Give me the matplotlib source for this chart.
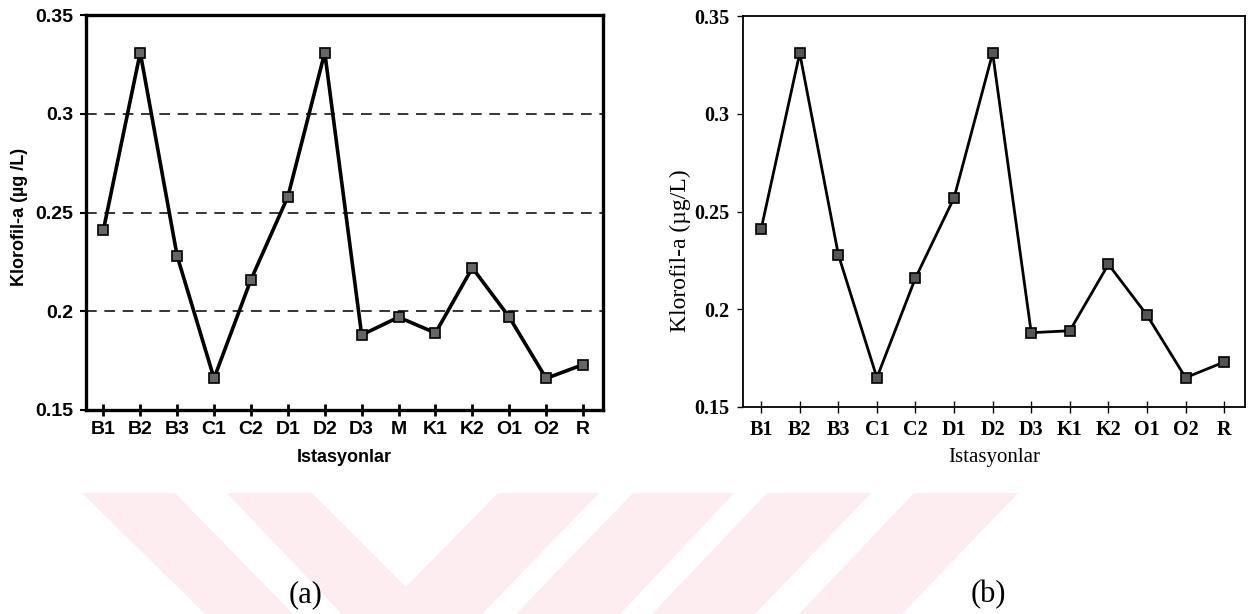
import numpy as np
import matplotlib
matplotlib.use('Agg')
import matplotlib.pyplot as plt
from matplotlib.patches import Polygon
from matplotlib import font_manager

# data
stations_a = ['B1', 'B2', 'B3', 'C1', 'C2', 'D1', 'D2', 'D3', 'M', 'K1', 'K2', 'O1', 'O2', 'R']
klorofil_a = [0.241, 0.331, 0.228, 0.166, 0.216, 0.258, 0.331, 0.188, 0.197, 0.189, 0.222, 0.197, 0.166, 0.173]

stations_b = ['B1', 'B2', 'B3', 'C1', 'C2', 'D1', 'D2', 'D3', 'K1', 'K2', 'O1', 'O2', 'R']
klorofil_b = [0.241, 0.331, 0.228, 0.165, 0.216, 0.257, 0.331, 0.188, 0.189, 0.223, 0.197, 0.165, 0.173]

y_ticks = [0.15, 0.2, 0.25, 0.3, 0.35]
y_tick_labels = ['0.15', '0.2', '0.25', '0.3', '0.35']

names = {f.name for f in font_manager.fontManager.ttflist}
sans = 'Liberation Sans Narrow' if 'Liberation Sans Narrow' in names else 'Liberation Sans'
serif = 'Liberation Serif'

W, H = 1249, 614
fig = plt.figure(figsize=(W / 100, H / 100), dpi=100)

def px_axes(l, t, r, b):
    return fig.add_axes([l / W, 1 - b / H, (r - l) / W, (b - t) / H])

# watermark bands (pixel coords)
bands = [
    [(82, 493), (175, 493), (293, 614), (205, 614)],
    [(227, 493), (312, 493), (406, 587), (498, 493), (599, 493), (482, 614), (342, 614)],
    [(633, 493), (734, 493), (620, 614), (516, 614)],
    [(767, 493), (871, 493), (755, 614), (652, 614)],
    [(914, 493), (1018, 493), (902, 614), (799, 614)],
]
for b in bands:
    pts = [(x / W, 1 - y / H) for x, y in b]
    fig.patches.append(Polygon(pts, closed=True, transform=fig.transFigure,
                               facecolor='#fdedf0', edgecolor='none', zorder=0))

# ---- panel (a)
ax1 = px_axes(86, 15, 603, 410)
xa = np.arange(len(stations_a))
ax1.plot(xa, klorofil_a, color='black', lw=2.6, marker='s', ms=7.5,
         mfc='#666666', mec='black', mew=1.2, zorder=3)
ax1.set_xlim(-0.47, len(stations_a) - 0.46)
ax1.set_ylim(0.15, 0.35)
ax1.set_yticks(y_ticks)
ax1.set_yticklabels(y_tick_labels)
ax1.set_xticks(xa)
ax1.set_xticklabels(stations_a)
for v in [0.2, 0.25, 0.3]:
    ax1.axhline(v, color='black', lw=1.1, ls=(0, (7, 5)), zorder=1)
for s in ax1.spines.values():
    s.set_linewidth(2.4)
ax1.tick_params(axis='x', direction='inout', length=9, width=2, pad=3.5)
ax1.tick_params(axis='y', direction='out', length=4.5, width=1.5, pad=4.5)
for lab in ax1.get_xticklabels() + ax1.get_yticklabels():
    lab.set_fontfamily(sans)
    lab.set_fontweight('bold')
    lab.set_fontsize(14)
ax1.set_xlabel('Istasyonlar', fontfamily=sans, fontweight='bold', fontsize=13)
ax1.xaxis.set_label_coords(0.5, -0.10)
ax1.set_ylabel('Klorofil-a (µg /L)', fontfamily=sans, fontweight='bold', fontsize=13)
ax1.yaxis.set_label_coords(-0.112, 0.49)

# ---- panel (b)
ax2 = px_axes(743, 16, 1245, 407)
xb = np.arange(len(stations_b))
ax2.plot(xb, klorofil_b, color='black', lw=2.0, marker='s', ms=7.5,
         mfc='#555555', mec='black', mew=1.2, zorder=3)
ax2.set_xlim(-0.47, len(stations_b) - 0.46)
ax2.set_ylim(0.15, 0.35)
ax2.set_yticks(y_ticks)
ax2.set_yticklabels(y_tick_labels)
ax2.set_xticks(xb)
ax2.set_xticklabels(stations_b)
for s in ax2.spines.values():
    s.set_linewidth(1.3)
ax2.tick_params(axis='x', direction='inout', length=9, width=1, pad=5)
ax2.tick_params(axis='y', direction='out', length=4.5, width=1, pad=5)
for lab in ax2.get_xticklabels() + ax2.get_yticklabels():
    lab.set_fontfamily(serif)
    lab.set_fontweight('bold')
    lab.set_fontsize(14.5)
ax2.set_xlabel('Istasyonlar', fontfamily=serif, fontsize=15)
ax2.xaxis.set_label_coords(0.5, -0.105)
ax2.set_ylabel('Klorofil-a (µg/L)', fontfamily=serif, fontsize=17)
ax2.yaxis.set_label_coords(-0.104, 0.40)

fig.text(306 / W, 1 - 595 / H, '(a)', fontfamily=serif, fontsize=22, ha='center', va='center')
fig.text(988 / W, 1 - 595 / H, '(b)', fontfamily=serif, fontsize=22, ha='center', va='center')

fig.savefig('out.png', dpi=100, facecolor='white')
